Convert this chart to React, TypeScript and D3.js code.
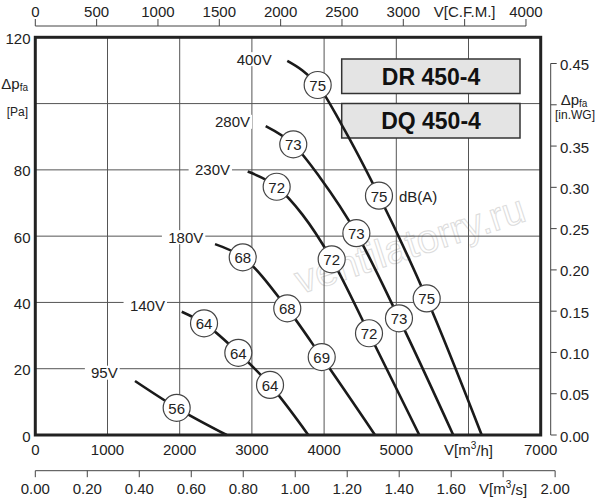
import React from "react";
import * as d3 from "d3";

// ---- data ----
const speedLabels = ["400V", "280V", "230V", "180V", "140V", "95V"];
// curve points [m3/h, Pa]
const curve400: [number, number][] = [[3490, 112.9], [3700, 110.0], [3911, 105.6], [4244, 93.6], [4760, 72.2], [5421, 41.2], [6183, 0]];
const curve280: [number, number][] = [[3191, 93.2], [3573, 87.7], [3950, 77.5], [4447, 60.9], [5037, 35.2], [5789, 0]];
const curve230: [number, number][] = [[2942, 79.5], [3343, 74.9], [3700, 66.5], [4105, 53.0], [4622, 30.7], [5319, 0]];
const curve180: [number, number][] = [[2489, 57.6], [2873, 53.6], [3490, 38.2], [3967, 23.5], [4705, 0]];
const curve140: [number, number][] = [[2028, 37.2], [2337, 33.7], [2812, 24.8], [3251, 15.1], [3781, 0]];
const curve95: [number, number][] = [[1381, 16.3], [1958, 8.2], [2651, 0]];
const curves = [curve400, curve280, curve230, curve180, curve140, curve95];
// speed label anchors (right end) [m3/h, Pa]
const speedLabelQ = [3274, 2974, 2697, 2327, 1796, 1141];
const speedLabelP = [113.4, 94.5, 80.0, 59.7, 39.2, 18.8];
// noise markers
const markerQ = [3911, 4760, 5421, 3573, 4447, 5037, 3343, 4105, 4622, 2873, 3490, 3967, 2337, 2812, 3251, 1958];
const markerP = [105.6, 72.2, 41.2, 87.7, 60.9, 35.2, 74.9, 53.0, 30.7, 53.6, 38.2, 23.5, 33.7, 24.8, 15.1, 8.2];
const markerDb = ["75", "75", "75", "73", "73", "73", "72", "72", "72", "68", "68", "69", "64", "64", "64", "56"];
const dbUnitIndex = 1;
// axes ticks
const flowTicks = [0, 1000, 2000, 3000, 4000, 5000, 6000, 7000];
const pressureTicks = [0, 20, 40, 60, 80, 100, 120];
const cfmTicks = [0, 500, 1000, 1500, 2000, 2500, 3000, 3500, 4000];
const m3sTicks = [0, 0.2, 0.4, 0.6, 0.8, 1.0, 1.2, 1.4, 1.6, 1.8, 2.0];
const inwgTicks = [0, 0.05, 0.1, 0.15, 0.2, 0.25, 0.3, 0.35, 0.4, 0.45];
const models = ["DR 450-4", "DQ 450-4"];

const FONT = "'Liberation Sans', Arial, Helvetica, sans-serif";

export default function App() {
  const x = d3.scaleLinear().domain([0, 7000]).range([35.3, 540.7]);
  const y = d3.scaleLinear().domain([0, 120]).range([435, 37.3]);
  const xCfm = d3.scaleLinear().domain([0, 4000]).range([x(0), x(4000 * 1.699)]);
  const xS = d3.scaleLinear().domain([0, 2]).range([x(0), x(7200)]);
  const yWG = d3.scaleLinear().domain([0, 0.45]).range([y(0), y(0.45 * 249.09)]);
  const line = d3
    .line<[number, number]>()
    .x((d) => x(d[0]))
    .y((d) => y(d[1]))
    .curve(d3.curveMonotoneX);

  const topY = 26;
  const m3sY = 470.7;
  const rightX = 550.7;
  const grid = "#555";

  return (
    <svg width={600} height={500} style={{ position: "absolute", left: 0, top: 0, background: "#fff" }} fontFamily={FONT}>
      <rect x={0} y={0} width={600} height={500} fill="#fff" />
      {/* watermark */}
      <text
        x={410}
        y={258}
        transform="rotate(-18 410 245)"
        textAnchor="middle"
        fontSize={40}
        fill="none"
        stroke="#dcdcdc"
        strokeWidth={1}
      >
        ventilatorry.ru
      </text>
      {/* grid */}
      {flowTicks.slice(1, -1).map((t) => (
        <line key={"gx" + t} x1={x(t)} x2={x(t)} y1={y(120)} y2={y(0)} stroke={grid} strokeWidth={1} />
      ))}
      {pressureTicks.slice(1, -1).map((t) => (
        <line key={"gy" + t} x1={x(0)} x2={x(7000)} y1={y(t)} y2={y(t)} stroke={grid} strokeWidth={1} />
      ))}
      {/* legend boxes */}
      {models.map((m, i) => (
        <g key={m}>
          <rect x={341.7} y={59 + i * 44.5} width={178.3} height={34.5} fill="#e4e4e4" stroke="#333" strokeWidth={1.5} />
          <text x={431} y={76.5 + i * 44.5} textAnchor="middle" dominantBaseline="central" fontSize={23} fontWeight="bold" fill="#111">
            {m}
          </text>
        </g>
      ))}
      {/* curves */}
      {curves.map((c, i) => (
        <path key={"c" + i} d={line(c) || ""} fill="none" stroke="#1a1a1a" strokeWidth={2.6} />
      ))}
      {/* speed labels */}
      {speedLabels.map((s, i) => {
        const w = s.length * 8.6 + 6;
        return (
          <g key={s}>
            <rect x={x(speedLabelQ[i]) - w - 1} y={y(speedLabelP[i]) - 7} width={w + 3} height={14} fill="#fff" />
            <text x={x(speedLabelQ[i])} y={y(speedLabelP[i])} textAnchor="end" dominantBaseline="central" fontSize={15} fill="#222">
              {s}
            </text>
          </g>
        );
      })}
      {/* markers */}
      {markerQ.map((q, i) => (
        <g key={"m" + i}>
          <circle cx={x(q)} cy={y(markerP[i])} r={13.5} fill="#fff" stroke="#444" strokeWidth={1.2} />
          <text x={x(q)} y={y(markerP[i]) + 0.5} textAnchor="middle" dominantBaseline="central" fontSize={15} fill="#222">
            {markerDb[i]}
          </text>
        </g>
      ))}
      <text x={x(markerQ[dbUnitIndex]) + 20} y={y(markerP[dbUnitIndex]) + 1} dominantBaseline="central" fontSize={15} fill="#222">
        dB(A)
      </text>
      {/* frame */}
      <rect x={x(0)} y={y(120)} width={x(7000) - x(0)} height={y(0) - y(120)} fill="none" stroke="#222" strokeWidth={3} />
      {/* left axis labels */}
      {pressureTicks
        .filter((t) => t !== 100)
        .map((t) => (
          <text key={"ly" + t} x={30.5} y={y(t) + 1} textAnchor="end" dominantBaseline="central" fontSize={15} fill="#222">
            {t}
          </text>
        ))}
      <text x={28} y={83} textAnchor="end" dominantBaseline="central" fontSize={15} fill="#222">
        Δp<tspan fontSize={10} dy={4}>fa</tspan>
      </text>
      <text x={28} y={112} textAnchor="end" dominantBaseline="central" fontSize={12} fill="#222">
        [Pa]
      </text>
      {/* bottom m3/h labels */}
      {flowTicks.map((t) => (
        <text key={"bx" + t} x={x(t)} y={449.5} textAnchor="middle" dominantBaseline="central" fontSize={15} fill="#222">
          {t === 6000 ? (
            <>
              V[m<tspan fontSize={10} dy={-5}>3</tspan>
              <tspan dy={5}>/h]</tspan>
            </>
          ) : (
            t
          )}
        </text>
      ))}
      {/* top CFM axis */}
      <line x1={xCfm(0)} x2={xCfm(4000)} y1={topY} y2={topY} stroke="#444" strokeWidth={1} />
      {cfmTicks.map((t) => (
        <g key={"tc" + t}>
          <line x1={xCfm(t)} x2={xCfm(t)} y1={topY - 7} y2={topY} stroke="#444" strokeWidth={1} />
          <text x={xCfm(t)} y={11.5} textAnchor="middle" dominantBaseline="central" fontSize={15} fill="#222">
            {t === 3500 ? "V[C.F.M.]" : t}
          </text>
        </g>
      ))}
      {/* bottom m3/s axis */}
      <line x1={xS(0)} x2={xS(2)} y1={m3sY} y2={m3sY} stroke="#444" strokeWidth={1} />
      {m3sTicks.map((t) => (
        <g key={"ts" + t}>
          <line x1={xS(t)} x2={xS(t)} y1={m3sY} y2={m3sY + 6.5} stroke="#444" strokeWidth={1} />
          <text x={xS(t)} y={488.5} textAnchor="middle" dominantBaseline="central" fontSize={15} fill="#222">
            {Math.abs(t - 1.8) < 1e-9 ? (
              <>
                V[m<tspan fontSize={10} dy={-5}>3</tspan>
                <tspan dy={5}>/s]</tspan>
              </>
            ) : (
              t.toFixed(2)
            )}
          </text>
        </g>
      ))}
      {/* right in.WG axis */}
      <line x1={rightX} x2={rightX} y1={yWG(0.45)} y2={yWG(0)} stroke="#444" strokeWidth={1} />
      {inwgTicks.map((t) => (
        <g key={"rw" + t}>
          <line x1={rightX} x2={rightX + 6} y1={yWG(t)} y2={yWG(t)} stroke="#444" strokeWidth={1} />
          {Math.abs(t - 0.4) > 1e-9 && (
            <text x={560} y={yWG(t) + 1} dominantBaseline="central" fontSize={15} fill="#222">
              {t.toFixed(2)}
            </text>
          )}
        </g>
      ))}
      <text x={574} y={99} textAnchor="middle" dominantBaseline="central" fontSize={15} fill="#222">
        Δp<tspan fontSize={10} dy={4}>fa</tspan>
      </text>
      <text x={575} y={115} textAnchor="middle" dominantBaseline="central" fontSize={12} fill="#222">
        [in.WG]
      </text>
    </svg>
  );
}
